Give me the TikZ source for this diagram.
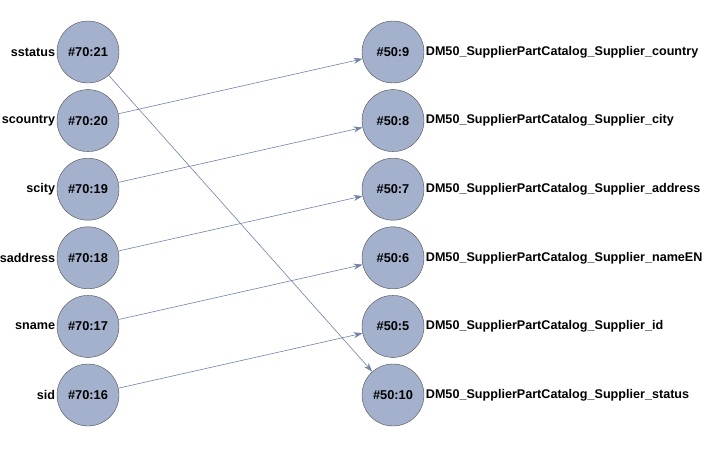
\documentclass[tikz,border=0pt]{standalone}
\usepackage{fontspec}
\setmainfont{Liberation Sans}
\usetikzlibrary{arrows.meta,positioning}
\definecolor{nodeblue}{HTML}{A3B1CD}
\definecolor{edgeblue}{HTML}{7083A6}

\begin{document}
\begin{tikzpicture}[x=1pt,y=-1pt,
  attr/.style={circle, draw=black!70, fill=nodeblue, minimum size=62pt, inner sep=0pt,
    font=\bfseries\fontsize{12.8}{15}\selectfont},
  tag/.style={font=\bfseries\fontsize{12.6}{15}\selectfont, inner sep=1.5pt},
  link/.style={draw=edgeblue, line width=0.6pt, -{Stealth[length=9pt,width=6pt]}}]
\useasboundingbox (0,0) rectangle (720,451);
% source attributes
\foreach \n/\lbl [count=\i from 0] in {21/sstatus,20/scountry,19/scity,18/saddress,17/sname,16/sid}
  \node[attr, label={[tag]left:\lbl}] (l\n) at (88,52+68.6*\i) {\#70:\n};
% target attributes
\foreach \n/\lbl [count=\i from 0] in {9/country,8/city,7/address,6/nameEN,5/id,10/status}
  \node[attr, label={[tag]right:DM50\_SupplierPartCatalog\_Supplier\_\lbl}] (r\n) at (393,52+68.6*\i) {\#50:\n};
% mappings
\foreach \a/\b in {21/10,20/9,19/8,18/7,17/6,16/5}
  \draw[link] (l\a) -- (r\b);
\end{tikzpicture}
\end{document}
